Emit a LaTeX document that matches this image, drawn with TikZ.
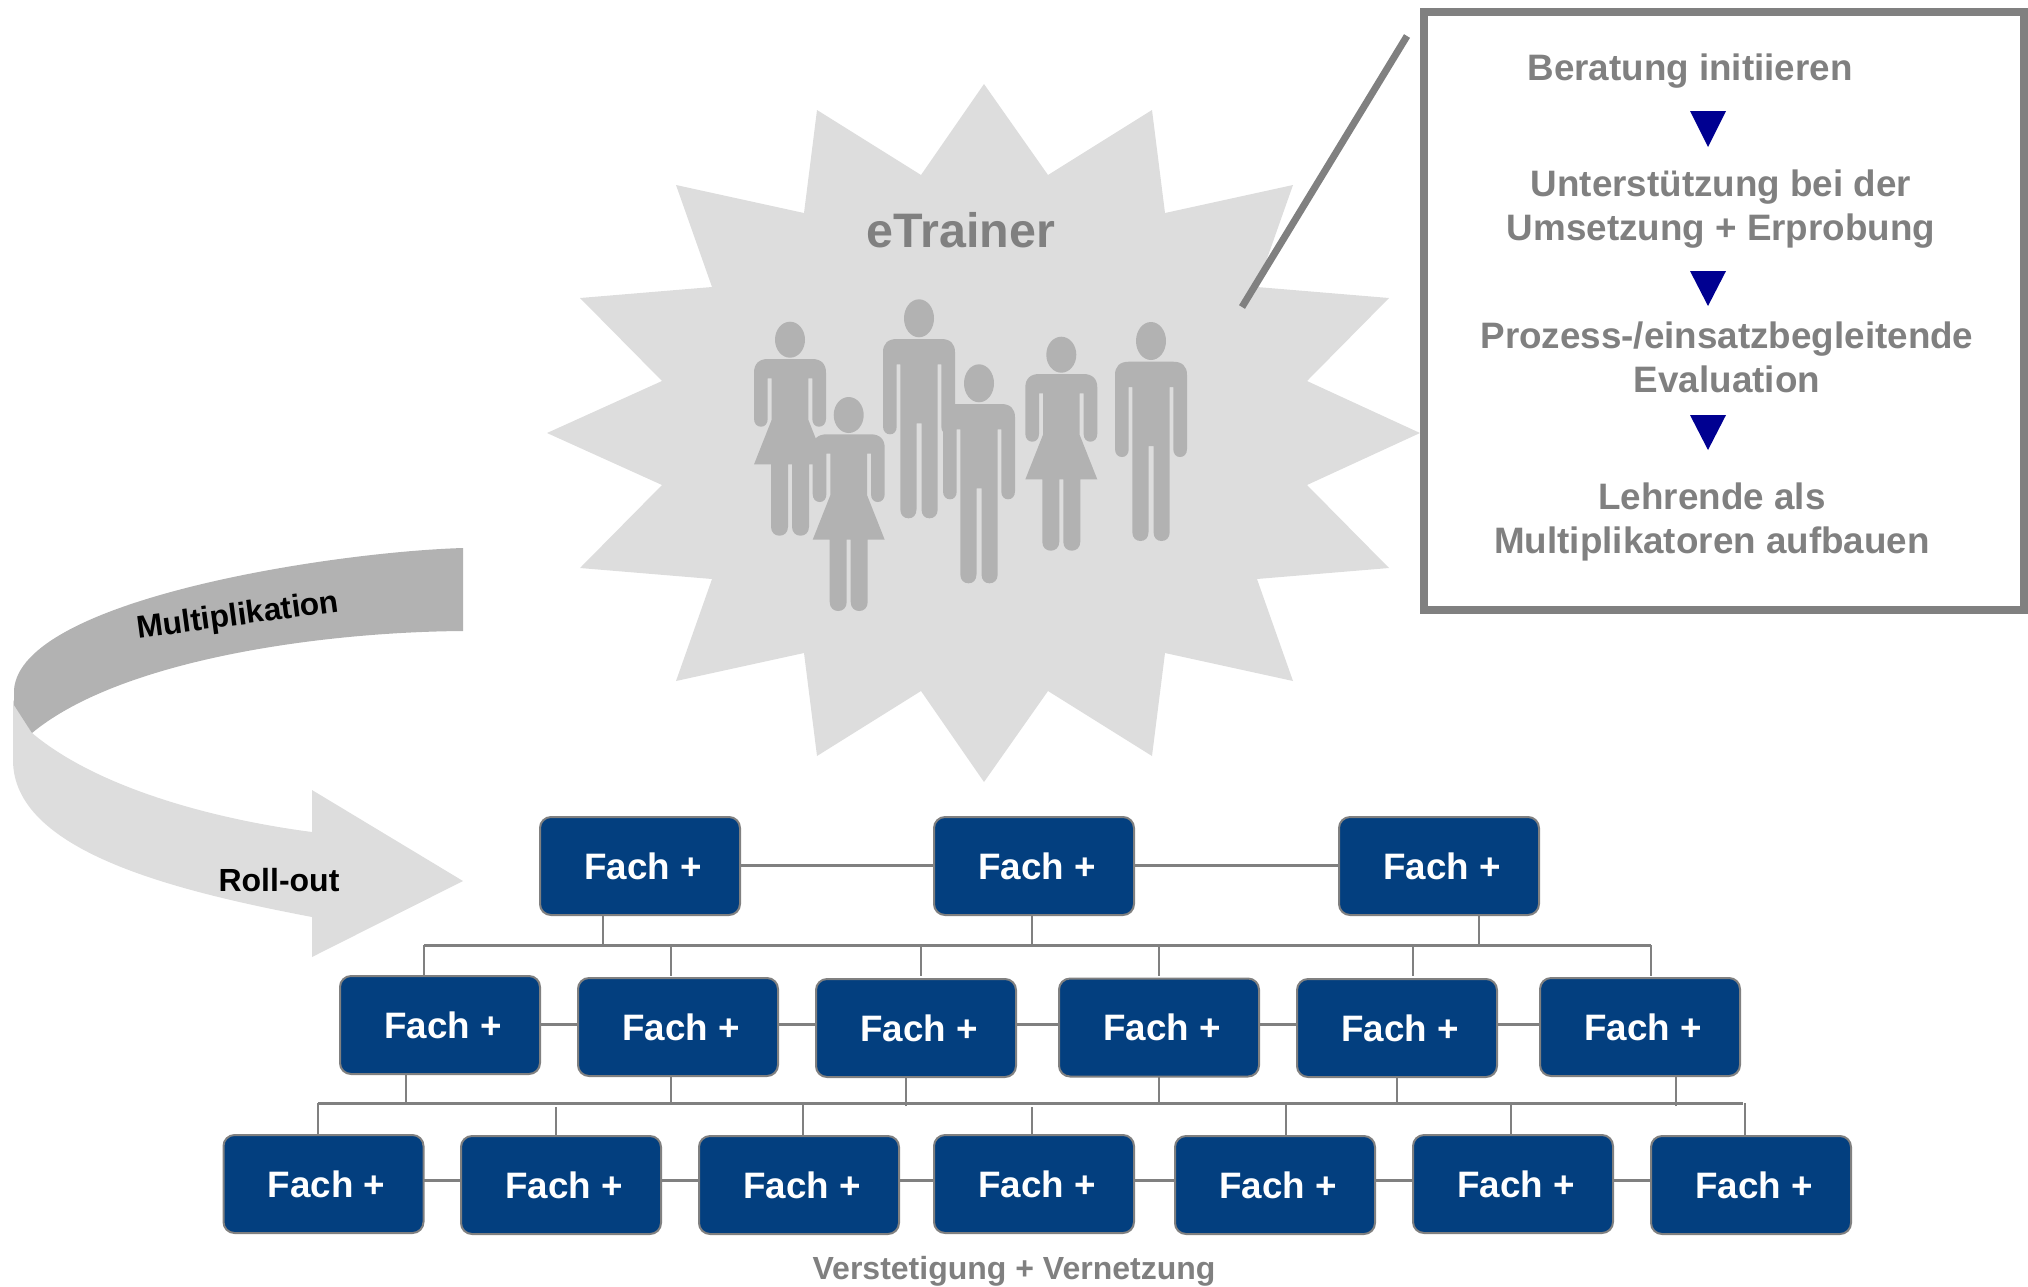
\documentclass[tikz,border=0pt]{standalone}
\usepackage{fontspec}
\setmainfont{Liberation Sans}
\definecolor{fachblue}{RGB}{3,63,127}
\definecolor{linegray}{RGB}{128,128,128}
\definecolor{lightshape}{RGB}{221,221,221}
\definecolor{darkshape}{RGB}{178,178,178}
\definecolor{tri}{RGB}{0,0,145}
\newcommand{\fachtext}{\hspace*{3pt}Fach +}
\tikzset{
  fachbox/.style={draw=linegray,line width=1pt,fill=fachblue,rounded corners=5.5pt,minimum width=100pt,minimum height=49pt,inner sep=0pt,outer sep=0pt,text=white,font=\fontsize{18.4}{20}\selectfont\bfseries},
  vline/.style={draw=linegray,line width=1pt},
  hline/.style={draw=linegray,line width=1.5pt},
  graytext/.style={text=linegray,align=center,inner sep=0pt,font=\fontsize{18.4}{22}\selectfont\bfseries},
  blacktext/.style={text=black,inner sep=0pt,font=\fontsize{16}{18}\selectfont\bfseries},
}
\newcommand{\manshape}[2]{%
  \begin{scope}[shift={(#1,#2)}]
    \fill[darkshape] (0,0) ellipse [x radius=7.5pt,y radius=9.5pt];
    \fill[darkshape] (-36,34) .. controls (-36,25) and (-31,20.7) .. (-22,20.7) -- (22,20.7)
      .. controls (31,20.7) and (36,25) .. (36,34) -- (36,108)
      .. controls (36,113) and (33,116) .. (29,116) .. controls (25,116) and (22.3,113) .. (22.3,108)
      -- (22.3,46) -- (18.7,46) -- (18.7,191)
      .. controls (18.7,197) and (15,200) .. (10.5,200) .. controls (6,200) and (2.5,197) .. (2.5,191)
      -- (2.5,105) -- (-2.5,105) -- (-2.5,191)
      .. controls (-2.5,197) and (-6,200) .. (-10.5,200) .. controls (-15,200) and (-18.7,197) .. (-18.7,191)
      -- (-18.7,46) -- (-22.3,46) -- (-22.3,108)
      .. controls (-22.3,113) and (-25,116) .. (-29,116) .. controls (-33,116) and (-36,113) .. (-36,108)
      -- cycle;
  \end{scope}}
\newcommand{\womanshape}[2]{%
  \begin{scope}[shift={(#1,#2)}]
    \fill[darkshape] (0,0) ellipse [x radius=7.5pt,y radius=9pt];
    \fill[darkshape] (-36,33) .. controls (-36,24) and (-31,19.3) .. (-22,19.3) -- (22,19.3)
      .. controls (31,19.3) and (36,24) .. (36,33) -- (36,79)
      .. controls (36,84) and (33,87) .. (29,87) .. controls (25,87) and (22.3,84) .. (22.3,79)
      -- (22.3,38.7) -- (18.3,38.7) -- (18.3,80) -- (36,124.7) -- (19,124.7) -- (19,187)
      .. controls (19,193) and (15,196) .. (10.5,196) .. controls (6,196) and (2,193) .. (2,187)
      -- (2,124.7) -- (-2,124.7) -- (-2,187)
      .. controls (-2,193) and (-6,196) .. (-10.5,196) .. controls (-15,196) and (-19,193) .. (-19,187)
      -- (-19,124.7) -- (-36,124.7) -- (-18.3,80) -- (-18.3,38.7) -- (-22.3,38.7) -- (-22.3,79)
      .. controls (-22.3,84) and (-25,87) .. (-29,87) .. controls (-33,87) and (-36,84) .. (-36,79)
      -- cycle;
  \end{scope}}
\begin{document}
\begin{tikzpicture}[x=0.5pt,y=-0.5pt]
\useasboundingbox (0,0) rectangle (2028,1286);
% star
\fill[lightshape] (984,84) -- (1048,175) -- (1152,110) -- (1165,213) -- (1293,185) -- (1257,287) -- (1389,298) -- (1307,381) -- (1420,433)
  -- (1307,485) -- (1389,568) -- (1257,579) -- (1293,681) -- (1165,653) -- (1152,756) -- (1048,691) -- (984,782)
  -- (921,691) -- (817,756) -- (804,653) -- (676,681) -- (712,579) -- (580,568) -- (662,485) -- (547,433)
  -- (662,381) -- (580,298) -- (712,287) -- (676,185) -- (804,213) -- (817,110) -- (921,175) -- cycle;
% people
\womanshape{790}{339.7}
\womanshape{848.7}{415}
\manshape{919}{318.3}
\manshape{979}{383.3}
\womanshape{1061.3}{354.7}
\manshape{1151}{341}
\node[text=linegray,inner sep=0pt,font=\fontsize{24.2}{26}\selectfont\bfseries] (etrainer) at (961,230) {eTrainer};
% callout
\coordinate (calla) at (1407,36);
\coordinate (callb) at (1242,307);
\draw[linegray,line width=3.5pt] (calla) -- (callb);
\node[draw=linegray,line width=3.75pt,minimum width=300pt,minimum height=299pt,inner sep=0pt,outer sep=0pt] (panel) at (1724,311) {};
\node[graytext] (s1) at (1690,71) {Beratung initiieren};
\node[graytext] (s2) at (1721,209) {Unterstützung bei der\\Umsetzung + Erprobung};
\node[graytext] (s3) at (1727,357) {Prozess-/einsatzbegleitende\\Evaluation};
\node[graytext] (s4) at (1712,522) {Lehrende als\\Multiplikatoren aufbauen};
\fill[tri] (1690,111) -- (1726,111) -- (1708,147) -- cycle;
\fill[tri] (1690,271) -- (1726,271) -- (1708,306) -- cycle;
\fill[tri] (1690,415) -- (1726,415) -- (1708,450) -- cycle;
% ribbon arrow
\fill[lightshape] (32,733) .. controls (100,790) and (220,820) .. (312,832) -- (312,790) -- (463,881) -- (312,957) -- (312,917)
  .. controls (170,890) and (13,850) .. (13,760) -- (13,700) -- cycle;
\fill[darkshape] (463,548) .. controls (330,552) and (20,600) .. (14,690) -- (14,705) -- (32,733)
  .. controls (120,660) and (320,632) .. (463,631) -- cycle;
\node[blacktext,rotate=7.6,font=\fontsize{15.8}{18}\selectfont\bfseries] (multi) at (238,617) {Multiplikation};
\node[blacktext] (roll) at (279,880) {Roll-out};
% boxes
\node[fachbox] (t1) at (640,866) {\fachtext};
\node[fachbox] (t2) at (1034,866) {\fachtext};
\node[fachbox] (t3) at (1439,866) {\fachtext};
\node[fachbox] (m1) at (440,1025) {\fachtext};
\node[fachbox] (m2) at (678,1027) {\fachtext};
\node[fachbox] (m3) at (916,1028) {\fachtext};
\node[fachbox] (m4) at (1159,1027.5) {\fachtext};
\node[fachbox] (m5) at (1397,1028) {\fachtext};
\node[fachbox] (m6) at (1640,1027) {\fachtext};
\node[fachbox] (b1) at (323.5,1184) {\fachtext};
\node[fachbox] (b2) at (561,1185) {\fachtext};
\node[fachbox] (b3) at (799,1185) {\fachtext};
\node[fachbox] (b4) at (1034,1184) {\fachtext};
\node[fachbox] (b5) at (1275,1185) {\fachtext};
\node[fachbox] (b6) at (1513,1184) {\fachtext};
\node[fachbox] (b7) at (1751,1185) {\fachtext};
\node[text=linegray,inner sep=0pt,font=\fontsize{16}{18}\selectfont\bfseries] (foot) at (1014,1271) {Verstetigung + Vernetzung};
% horizontal links
\coordinate (lt) at (0,865);
\coordinate (lm) at (0,1024);
\coordinate (lb) at (0,1180);
\draw[hline] (t1.east |- lt) -- (t2.west |- lt);
\draw[hline] (t2.east |- lt) -- (t3.west |- lt);
\draw[hline] (m1.east |- lm) -- (m2.west |- lm);
\draw[hline] (m2.east |- lm) -- (m3.west |- lm);
\draw[hline] (m3.east |- lm) -- (m4.west |- lm);
\draw[hline] (m4.east |- lm) -- (m5.west |- lm);
\draw[hline] (m5.east |- lm) -- (m6.west |- lm);
\draw[hline] (b1.east |- lb) -- (b2.west |- lb);
\draw[hline] (b2.east |- lb) -- (b3.west |- lb);
\draw[hline] (b3.east |- lb) -- (b4.west |- lb);
\draw[hline] (b4.east |- lb) -- (b5.west |- lb);
\draw[hline] (b5.east |- lb) -- (b6.west |- lb);
\draw[hline] (b6.east |- lb) -- (b7.west |- lb);
% upper bus
\coordinate (busa) at (424,945);
\coordinate (busb) at (1651,945);
\draw[hline] (busa) -- (busb);
\foreach \n/\x in {t1/603,t2/1032,t3/1479}{
  \coordinate (d) at (\x,945);
  \draw[vline] (d) -- (d |- \n.south);
}
\foreach \n/\x in {m1/424,m2/671,m3/921,m4/1159,m5/1413,m6/1651}{
  \coordinate (d) at (\x,945);
  \draw[vline] (d) -- (\x,976);
}
% lower bus
\coordinate (busc) at (318,1103);
\coordinate (busd) at (1743,1103);
\draw[hline] (busc) -- (busd);
\foreach \n/\x/\y in {m1/405.5/1103,m2/671/1103,m3/905.5/1106,m4/1159/1103,m5/1397/1103,m6/1676/1106}{
  \coordinate (d) at (\x,\y);
  \draw[vline] (d) -- (d |- \n.south);
}
\foreach \n/\x/\y in {b1/318/1103,b2/556/1107,b3/803/1103,b4/1032/1107,b5/1286/1103,b6/1511/1103,b7/1745/1103}{
  \coordinate (d) at (\x,\y);
  \draw[vline] (d) -- (d |- \n.north);
}
\end{tikzpicture}
\end{document}
